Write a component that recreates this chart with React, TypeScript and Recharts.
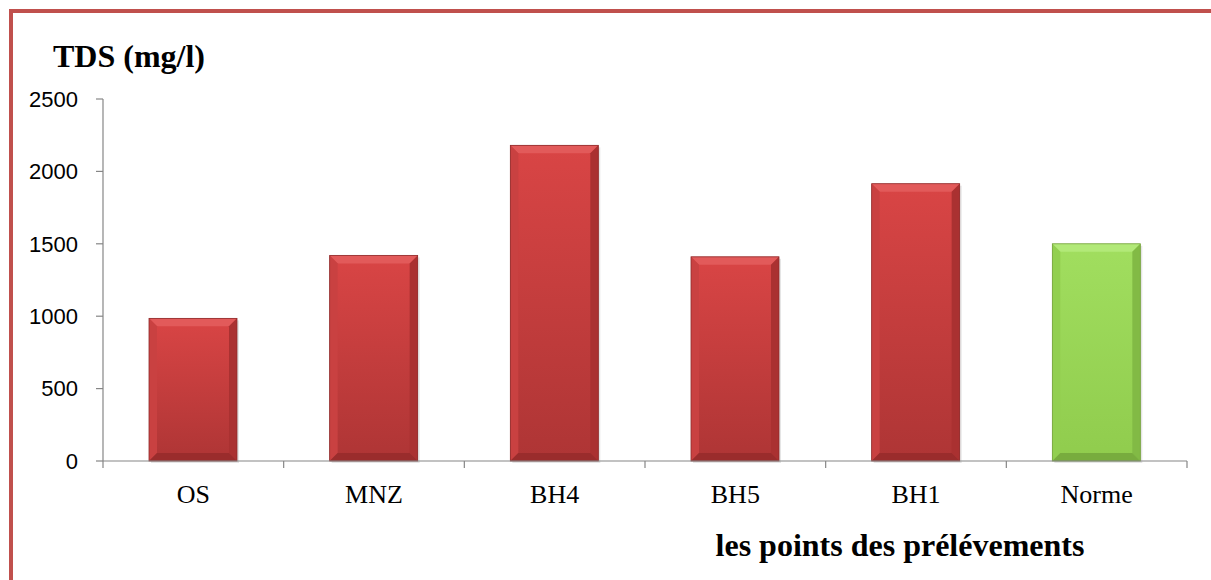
import { Bar, BarChart, Customized, XAxis, YAxis } from "recharts";

const categories = ["OS", "MNZ", "BH4", "BH5", "BH1", "Norme"];
const tdsValues = [985, 1420, 2180, 1410, 1915, 1500];
const yTicks = [0, 500, 1000, 1500, 2000, 2500];

const data = categories.map((name, i) => ({ name, tds: tdsValues[i] }));

const W = 1211;
const H = 580;
const margin = { top: 99, right: 24, left: 13, bottom: 59 };
const yAxisWidth = 90;
const bandWidth = (W - margin.left - yAxisWidth - margin.right) / categories.length;
const axisColor = "#868686";
const serif = "'Liberation Serif', 'Times New Roman', Times, serif";

const palettes = {
  red: { top: "#E25A5A", left: "#C94141", right: "#AA3131", bottom: "#9A2C2C", g1: "#D94545", g2: "#AE3535", edge: "#8E2B2B" },
  green: { top: "#B2E978", left: "#92CF50", right: "#82BA45", bottom: "#78AC3E", g1: "#A1DE5F", g2: "#90CC4D", edge: "#74A03C" },
};

const BevelBar = (props) => {
  const { x, y, width: w, height: h, payload } = props;
  if (!h || h <= 0) return null;
  const key = payload.name === "Norme" ? "green" : "red";
  const p = palettes[key];
  const b = Math.min(8, w / 4, h / 4);
  return (
    <g>
      <rect x={x + 2} y={y + 2} width={w} height={h} fill="rgba(0,0,0,0.10)" />
      <rect x={x} y={y} width={w} height={h} fill={`url(#grad-${key})`} />
      <polygon points={`${x},${y} ${x + w},${y} ${x + w - b},${y + b} ${x + b},${y + b}`} fill={p.top} />
      <polygon points={`${x},${y} ${x + b},${y + b} ${x + b},${y + h - b} ${x},${y + h}`} fill={p.left} />
      <polygon points={`${x + w},${y} ${x + w - b},${y + b} ${x + w - b},${y + h - b} ${x + w},${y + h}`} fill={p.right} />
      <polygon points={`${x},${y + h} ${x + b},${y + h - b} ${x + w - b},${y + h - b} ${x + w},${y + h}`} fill={p.bottom} />
      <rect x={x} y={y} width={w} height={h} fill="none" stroke={p.edge} strokeWidth={0.8} />
    </g>
  );
};

const CategoryTick = (props) => {
  const { x, y, payload, index } = props;
  const left = x - bandWidth / 2;
  const right = x + bandWidth / 2;
  return (
    <g>
      <line x1={left} y1={y - 8} x2={left} y2={y - 1} stroke={axisColor} strokeWidth={1.2} />
      {index === categories.length - 1 && (
        <line x1={right} y1={y - 8} x2={right} y2={y - 1} stroke={axisColor} strokeWidth={1.2} />
      )}
      <text x={x} y={y + 34} textAnchor="middle" style={{ fontFamily: serif, fontSize: 26 }} fill="#000">
        {payload.value}
      </text>
    </g>
  );
};

const Titles = () => (
  <g fill="#000">
    <text x={53} y={67} style={{ fontFamily: serif, fontSize: 32, fontWeight: "bold" }}>
      TDS (mg/l)
    </text>
    <text x={900} y={556} textAnchor="middle" style={{ fontFamily: serif, fontSize: 32, fontWeight: "bold" }}>
      les points des prélévements
    </text>
  </g>
);

export default function App() {
  return (
    <div style={{ position: "relative", width: W, height: H, background: "#fff", overflow: "hidden" }}>
      <style>{`body{margin:0;overflow:hidden}`}</style>
      <div
        style={{
          position: "absolute",
          left: 9,
          top: 9,
          width: W + 40,
          height: H + 40,
          border: "4px solid #C0504D",
          boxSizing: "border-box",
        }}
      />
      <div style={{ position: "absolute", left: 0, top: 0 }}>
        <BarChart width={W} height={H} data={data} margin={margin}>
          <defs>
            <linearGradient id="grad-red" x1="0" y1="0" x2="0" y2="1">
              <stop offset="0%" stopColor={palettes.red.g1} />
              <stop offset="100%" stopColor={palettes.red.g2} />
            </linearGradient>
            <linearGradient id="grad-green" x1="0" y1="0" x2="0" y2="1">
              <stop offset="0%" stopColor={palettes.green.g1} />
              <stop offset="100%" stopColor={palettes.green.g2} />
            </linearGradient>
          </defs>
          <XAxis
            dataKey="name"
            height={60}
            axisLine={{ stroke: axisColor, strokeWidth: 1.2 }}
            tickLine={false}
            interval={0}
            tick={<CategoryTick />}
          />
          <YAxis
            width={yAxisWidth}
            domain={[0, 2500]}
            ticks={yTicks}
            interval={0}
            axisLine={{ stroke: axisColor, strokeWidth: 1.2 }}
            tickLine={{ stroke: axisColor, strokeWidth: 1.2 }}
            tickSize={7}
            tickMargin={18}
            tick={{ fill: "#000", fontSize: 22, fontFamily: "'Liberation Sans', Arial, sans-serif" }}
          />
          <Bar dataKey="tds" barSize={88} shape={<BevelBar />} isAnimationActive={false} />
          <Customized component={Titles} />
        </BarChart>
      </div>
    </div>
  );
}
